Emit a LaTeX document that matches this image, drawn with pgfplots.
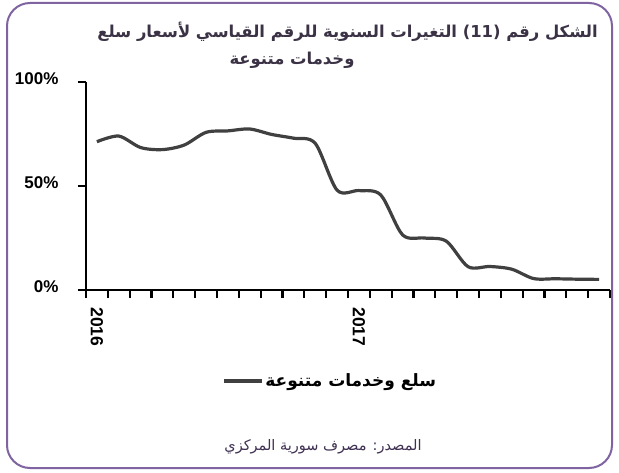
\documentclass[border=0pt]{standalone}
\usepackage{pgfplots}
\pgfplotsset{compat=1.18}
\usepackage{fontspec}
\setmainfont{Liberation Sans}
\newfontfamily\arabicfont[Script=Arabic]{DejaVu Sans}
\TeXXeTstate=1
\definecolor{framepurple}{HTML}{8064A2}
\definecolor{titlecol}{HTML}{3B3345}
\definecolor{linecol}{HTML}{404040}
\definecolor{srccol}{HTML}{403152}
\begin{document}
\begin{tikzpicture}[x=1pt,y=1pt]
\useasboundingbox (0,0) rectangle (619,472);
\fill[white] (0,0) rectangle (619,472);
\draw[framepurple, line width=2pt, rounded corners=23pt] (7,4) rectangle (612,469);
\node[anchor=east, text=titlecol, font=\arabicfont\bfseries\fontsize{16.4}{19}\selectfont, inner sep=0] at (598,440) {\beginR الشكل رقم \beginL(11)\endL{} التغيرات السنوية للرقم القياسي لأسعار سلع\endR};
\node[anchor=center, text=titlecol, font=\arabicfont\bfseries\fontsize{16.4}{19}\selectfont, inner sep=0] at (292,412) {\beginR وخدمات متنوعة\endR};
\node[anchor=center, text=srccol, font=\arabicfont\fontsize{14.5}{17}\selectfont, inner sep=0] at (323,25) {\beginR المصدر: مصرف سورية المركزي\endR};
\begin{axis}[
  at={(86pt,182pt)}, anchor=south west,
  scale only axis, width=524pt, height=208pt,
  xmin=0, xmax=24, ymin=0, ymax=100,
  axis x line=bottom, axis y line=left,
  axis line style={-, line width=2.2pt, black},
  /pgf/number format/assume math mode=true,
  xtick={0,...,24}, xticklabels={},
  ytick={0,50,100}, yticklabels={0\%,50\%,100\%},
  tick style={line width=2.2pt, black},
  major tick length=8pt,
  tick align=outside,
  yticklabel style={font=\bfseries\fontsize{17}{17}\selectfont, xshift=-16pt, yshift=3pt},
  extra x ticks={0.5,12.5}, extra x tick labels={2016,2017},
  extra x tick style={major tick length=0pt,
    tick label style={font=\bfseries\fontsize{17.5}{17.5}\selectfont, yshift=-14pt, rotate=-90, anchor=west}},
  legend style={draw=none, fill=none, at={(0.2595,-0.4375)}, anchor=west, inner sep=0pt,
    font=\arabicfont\bfseries\fontsize{17}{19}\selectfont},
  legend image code/.code={\draw[#1] (0pt,0pt) -- (38pt,0pt);},
  clip=false,
]
\addplot[linecol, line width=3.2pt, smooth, tension=0.5] coordinates {
(0.5,71.3) (1.5,74.0) (2.5,68.5) (3.5,67.5) (4.5,69.7) (5.5,75.8)
(6.5,76.5) (7.5,77.4) (8.5,74.8) (9.5,73.0) (10.5,70.5) (11.5,48.0)
(12.5,47.8) (13.5,45.7) (14.5,26.5) (15.5,25.0) (16.5,23.5) (17.5,11.2)
(18.5,11.3) (19.5,10.0) (20.5,5.5) (21.5,5.4) (22.5,5.2) (23.5,5.1)
};
\addlegendentry{\beginR سلع وخدمات متنوعة\endR}
\end{axis}
\end{tikzpicture}
\end{document}
